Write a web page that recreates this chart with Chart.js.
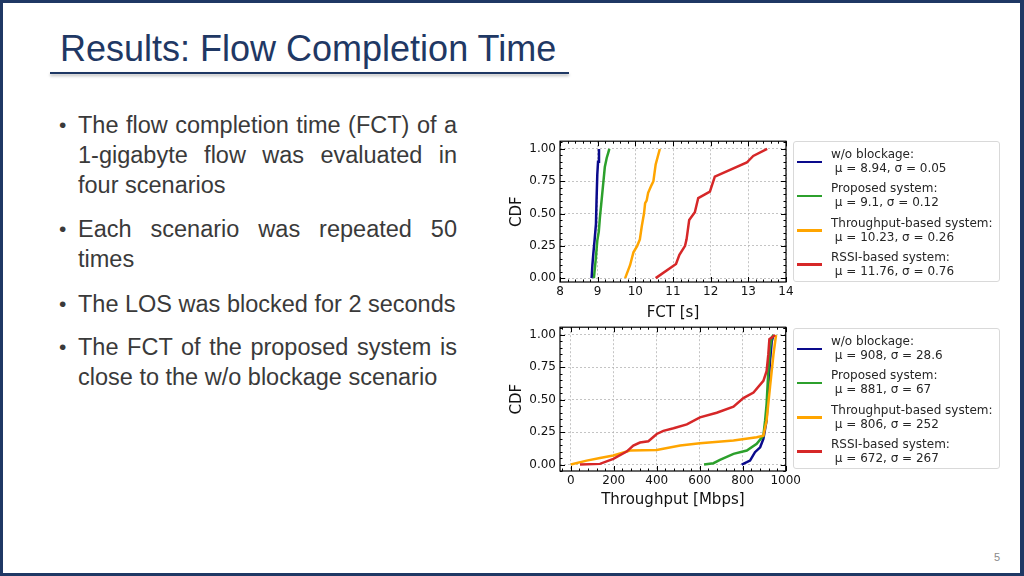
<!DOCTYPE html>
<html>
<head>
<meta charset="utf-8">
<title>Results: Flow Completion Time</title>
<script src="https://cdn.jsdelivr.net/npm/chart.js@4.4.0/dist/chart.umd.min.js"></script>
<style>
html, body { margin: 0; padding: 0; background: #fff; }
#slide { position: relative; width: 1024px; height: 576px; overflow: hidden; font-family: "Liberation Sans", Arial, sans-serif; }
#frame { position: absolute; left: 0; top: 0; width: 1024px; height: 576px; box-sizing: border-box; border: 3px solid #1f3864; border-right-width: 4px; z-index: 5; }
#title { position: absolute; left: 60px; top: 31px; font-size: 36px; line-height: 36px; color: #1f3864; white-space: nowrap; }
#rule { position: absolute; left: 50px; top: 71.5px; width: 519px; height: 2px; background: #1f3864; box-shadow: 0 2px 3px rgba(0,0,0,0.3); }
.p { position: absolute; left: 78px; width: 379px; font-size: 23.5px; line-height: 30px; color: #3a3a3a; }
.p .j { text-align: justify; text-align-last: justify; white-space: nowrap; }
.p .b { position: absolute; left: -19px; top: 0; font-size: 21px; line-height: 30px; }
#pageno { position: absolute; left: 994px; top: 551px; font-size: 11px; color: #8a8a8a; }
canvas { position: absolute; }
.legend { position: absolute; left: 793px; width: 207px; height: 141px; box-sizing: border-box; border: 1px solid #d9d9d9; border-radius: 3px; font-family: "DejaVu Sans", sans-serif; font-size: 12px; color: #262626; }
.legend .row { position: absolute; left: 0; width: 205px; height: 28px; }
.legend .mk { position: absolute; left: 3px; top: 13.5px; width: 25px; height: 2.5px; }
.legend .lab { position: absolute; left: 37px; top: 0; line-height: 14px; white-space: nowrap; }
</style>
</head>
<body>
<div id="slide">
  <div id="title">Results: Flow Completion Time</div>
  <div id="rule"></div>

  <div class="p" style="top:110px"><span class="b">•</span>
    <div class="j">The flow completion time (FCT) of a</div>
    <div class="j">1-gigabyte flow was evaluated in</div>
    <div>four scenarios</div>
  </div>
  <div class="p" style="top:213.5px"><span class="b">•</span>
    <div class="j">Each scenario was repeated 50</div>
    <div>times</div>
  </div>
  <div class="p" style="top:288.5px"><span class="b">•</span>
    <div>The LOS was blocked for 2 seconds</div>
  </div>
  <div class="p" style="top:332px"><span class="b">•</span>
    <div class="j">The FCT of the proposed system is</div>
    <div>close to the w/o blockage scenario</div>
  </div>

  <canvas id="fctChart" width="304" height="192" style="left:500px;top:130px"></canvas>
  <canvas id="thrChart" width="304" height="193" style="left:500px;top:316px"></canvas>

  <div id="pageno">5</div>
  <div id="frame"></div>
</div>
<script>
// series labels and stats
const seriesNames = ['w/o blockage', 'Proposed system', 'Throughput-based system', 'RSSI-based system'];
const fctMu = [8.94, 9.1, 10.23, 11.76];
const fctSigma = [0.05, 0.12, 0.26, 0.76];
const thrMu = [908, 881, 806, 672];
const thrSigma = [28.6, 67, 252, 267];

// tick labels
const fctTicks = [8, 9, 10, 11, 12, 13, 14];
const thrTicks = [0, 200, 400, 600, 800, 1000];
const cdfTicks = [0, 0.25, 0.5, 0.75, 1.0];

// FCT [s] vs CDF
const fctBlueX = [8.84, 8.86, 8.885, 8.92, 8.955, 8.97, 8.99, 9.01, 9.035];
const fctBlueY = [0, 0.1, 0.19, 0.3, 0.42, 0.6, 0.8, 0.9, 1.0];
const fctGreenX = [8.9, 8.95, 8.99, 9.03, 9.06, 9.13, 9.19, 9.24, 9.28, 9.31];
const fctGreenY = [0, 0.15, 0.29, 0.36, 0.47, 0.68, 0.86, 0.93, 0.97, 1.0];
const fctOrangeX = [9.73, 9.86, 9.95, 10.05, 10.12, 10.17, 10.23, 10.26, 10.3, 10.34, 10.43, 10.48, 10.54, 10.65];
const fctOrangeY = [0, 0.1, 0.2, 0.25, 0.3, 0.4, 0.5, 0.58, 0.6, 0.66, 0.72, 0.75, 0.88, 1.0];
const fctRedX = [10.54, 11.08, 11.17, 11.32, 11.36, 11.43, 11.58, 11.67, 11.98, 12.11, 12.96, 13.13, 13.5];
const fctRedY = [0, 0.11, 0.18, 0.25, 0.3, 0.45, 0.51, 0.62, 0.67, 0.785, 0.895, 0.946, 1.0];

// Throughput [Mbps] vs CDF
const thrBlueX = [795, 819, 834, 857, 881, 896, 911, 919, 927, 935, 943];
const thrBlueY = [0, 0.018, 0.03, 0.095, 0.133, 0.197, 0.34, 0.6, 0.8, 0.95, 1.0];
const thrGreenX = [620, 664, 694, 757, 819, 865, 896, 904, 911, 919, 927, 935, 943];
const thrGreenY = [0, 0.01, 0.036, 0.082, 0.108, 0.16, 0.223, 0.338, 0.467, 0.72, 0.9, 0.98, 1.0];
const thrOrangeX = [0, 74, 136, 198, 276, 400, 509, 601, 757, 865, 896, 911, 927, 943, 955];
const thrOrangeY = [0, 0.03, 0.05, 0.07, 0.108, 0.113, 0.146, 0.164, 0.185, 0.21, 0.223, 0.34, 0.6, 0.85, 1.0];
const thrRedX = [43, 136, 198, 260, 291, 322, 361, 400, 431, 478, 540, 601, 679, 757, 803, 850, 896, 911, 919, 924, 943, 950];
const thrRedY = [0, 0.005, 0.044, 0.1, 0.146, 0.17, 0.18, 0.236, 0.26, 0.28, 0.31, 0.364, 0.4, 0.446, 0.513, 0.556, 0.646, 0.72, 0.85, 0.967, 0.99, 1.0];

const seriesColors = ['#0a0a8c', '#2ca02c', '#ffa500', '#d62728'];
const mplFont = 'DejaVu Sans';

function pts(xs, ys) {
    return xs.map((x, i) => ({ x: x, y: ys[i] }));
}

// matplotlib-like box with inward major/minor ticks on all sides
const boxTicks = {
    id: 'boxTicks',
    afterDraw(chart, args, o) {
        const { ctx, chartArea: a } = chart;
        const xs = chart.scales.x, ys = chart.scales.y;
        ctx.save();
        ctx.strokeStyle = '#000';
        ctx.lineWidth = 1;
        ctx.beginPath();
        const each = (sc, step, major, fn) => {
            const start = Math.ceil(sc.min / step - 1e-9);
            for (let k = start; k * step <= sc.max + 1e-9; k++) {
                const v = k * step;
                const isMajor = major.some(m => Math.abs(m - v) < step / 10);
                fn(Math.round(sc.getPixelForValue(v)) + 0.5, isMajor ? 5 : 2.5);
            }
        };
        each(xs, o.xMinor, o.xMajor, (p, len) => {
            ctx.moveTo(p, a.bottom); ctx.lineTo(p, a.bottom - len);
            ctx.moveTo(p, a.top); ctx.lineTo(p, a.top + len);
        });
        each(ys, o.yMinor, cdfTicks, (p, len) => {
            ctx.moveTo(a.left, p); ctx.lineTo(a.left + len, p);
            ctx.moveTo(a.right, p); ctx.lineTo(a.right - len, p);
        });
        ctx.stroke();
        ctx.lineWidth = 1.2;
        ctx.strokeRect(a.left, a.top, a.right - a.left, a.bottom - a.top);
        ctx.restore();
    }
};

function makeChart(canvasId, xs, ys, xMin, xMax, xTicks, xMinor, xTitle, xAxisHeight, yMin) {
    const datasets = seriesNames.map((name, i) => ({
        label: name,
        data: pts(xs[i], ys[i]),
        borderColor: seriesColors[i],
        backgroundColor: seriesColors[i],
        borderWidth: 2.5,
        pointRadius: 0,
        tension: 0,
        fill: false,
        order: 4 - i
    }));
    const tickFont = { family: mplFont, size: 12 };
    return new Chart(document.getElementById(canvasId), {
        type: 'line',
        data: { datasets: datasets },
        options: {
            responsive: false,
            animation: false,
            devicePixelRatio: 1,
            layout: { padding: { top: 10, right: 18, left: 0, bottom: 0 } },
            plugins: {
                legend: { display: false },
                tooltip: { enabled: false },
                boxTicks: { xMinor: xMinor, yMinor: 0.05, xMajor: xTicks }
            },
            scales: {
                x: {
                    type: 'linear',
                    min: xMin,
                    max: xMax,
                    afterBuildTicks: s => { s.ticks = xTicks.map(v => ({ value: v })); },
                    afterFit: s => { s.height = xAxisHeight; },
                    ticks: { font: tickFont, color: '#111', padding: 3, maxRotation: 0, autoSkip: false,
                             callback: v => String(v) },
                    title: { display: true, text: xTitle, color: '#111',
                             font: { family: mplFont, size: 15 }, padding: { top: 0, bottom: 0 } },
                    grid: { color: '#b5b5b5', lineWidth: 0.8, drawTicks: false },
                    border: { display: false, dash: [2, 2] }
                },
                y: {
                    type: 'linear',
                    min: yMin,
                    max: 1.06,
                    afterBuildTicks: s => { s.ticks = cdfTicks.map(v => ({ value: v })); },
                    afterFit: s => { s.width = 60; },
                    ticks: { font: tickFont, color: '#111', padding: 4, callback: v => v.toFixed(2) },
                    title: { display: true, text: 'CDF', color: '#111',
                             font: { family: mplFont, size: 15 }, padding: { top: 8, bottom: 0 } },
                    grid: { color: '#b5b5b5', lineWidth: 0.8, drawTicks: false },
                    border: { display: false, dash: [2, 2] }
                }
            }
        },
        plugins: [boxTicks]
    });
}

makeChart('fctChart',
    [fctBlueX, fctGreenX, fctOrangeX, fctRedX],
    [fctBlueY, fctGreenY, fctOrangeY, fctRedY],
    8, 14, fctTicks, 0.2, 'FCT [s]', 40, -0.03);

makeChart('thrChart',
    [thrBlueX, thrGreenX, thrOrangeX, thrRedX],
    [thrBlueY, thrGreenY, thrOrangeY, thrRedY],
    -50, 1000, thrTicks, 40, 'Throughput [Mbps]', 38, -0.05);

function buildLegend(top, mu, sigma) {
    const box = document.createElement('div');
    box.className = 'legend';
    box.style.top = top + 'px';
    seriesNames.forEach((name, i) => {
        const row = document.createElement('div');
        row.className = 'row';
        row.style.top = (5 + i * 34.3) + 'px';
        const mk = document.createElement('span');
        mk.className = 'mk';
        mk.style.background = seriesColors[i];
        const lab = document.createElement('div');
        lab.className = 'lab';
        lab.innerHTML = name + ':<br>\u00a0\u03bc = ' + mu[i] + ', \u03c3 = ' + sigma[i];
        row.appendChild(mk);
        row.appendChild(lab);
        box.appendChild(row);
    });
    document.getElementById('slide').appendChild(box);
}

buildLegend(141, fctMu, fctSigma);
buildLegend(328, thrMu, thrSigma);
</script>
</body>
</html>
